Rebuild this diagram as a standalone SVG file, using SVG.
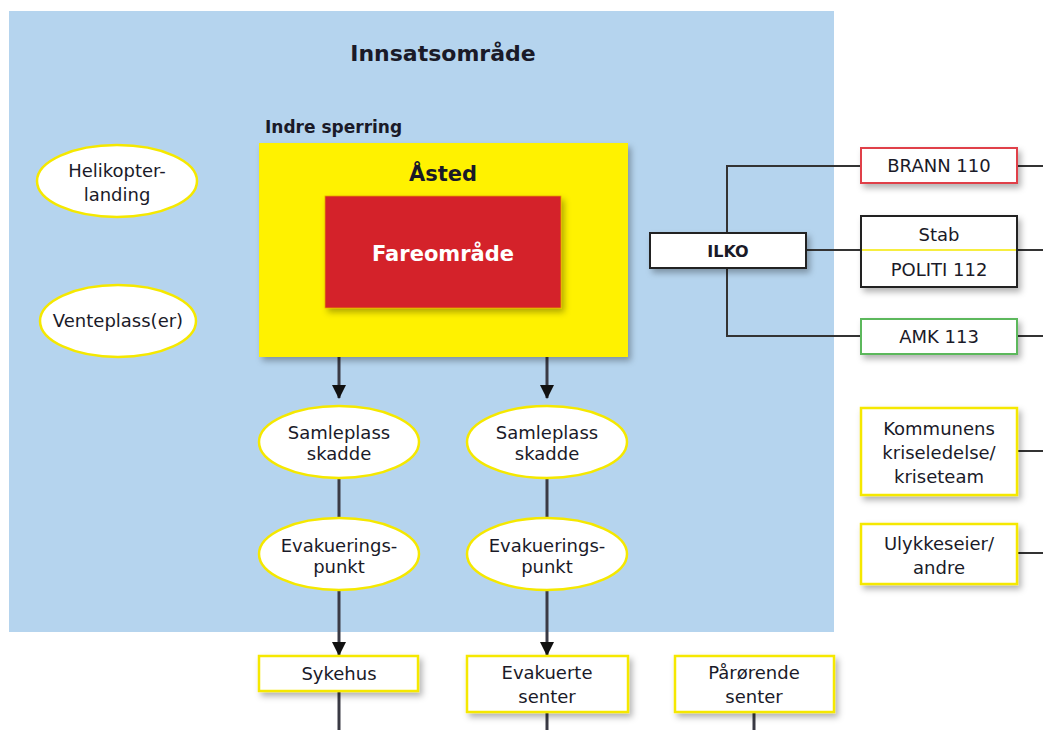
<svg xmlns="http://www.w3.org/2000/svg" width="1043" height="730" viewBox="0 0 1043 730">
<defs>
<filter id="sh" x="-20%" y="-20%" width="150%" height="160%">
<feDropShadow dx="3" dy="4" stdDeviation="3" flood-color="#000" flood-opacity="0.3"/>
</filter>
<marker id="ah" markerWidth="16" markerHeight="16" refX="13" refY="7" orient="auto" markerUnits="userSpaceOnUse">
<path d="M0,0 L14,7 L0,14 Z" fill="#111"/>
</marker>
</defs>
<style>
text{font-family:"DejaVu Sans","Liberation Sans",sans-serif;fill:#1a1a28;text-anchor:middle;font-size:18px}
.b{font-weight:bold}
.ell{fill:#fff;stroke:#f5e800;stroke-width:2.5}
.ybox{fill:#fff;stroke:#f5e800;stroke-width:2.5}
.wire{stroke:#333;stroke-width:2;fill:none}
.thick{stroke:#3a3a44;stroke-width:3;fill:none}
</style>
<rect x="0" y="0" width="1043" height="730" fill="#fff"/>
<rect x="9" y="11" width="825" height="621" fill="#b5d4ee"/>
<text class="b" x="443" y="61" style="font-size:22px">Innsatsområde</text>
<text class="b" x="265" y="133" style="font-size:17px;text-anchor:start">Indre sperring</text>

<g id="connectors">
<path class="thick" d="M339,357 V398" marker-end="url(#ah)"/>
<path class="thick" d="M547,357 V398" marker-end="url(#ah)"/>
<path class="thick" d="M339,478 V518"/>
<path class="thick" d="M547,478 V518"/>
<path class="thick" d="M339,590 V655" marker-end="url(#ah)"/>
<path class="thick" d="M547,590 V655" marker-end="url(#ah)"/>
<path class="thick" d="M339,691 V730"/>
<path class="thick" d="M547,712 V730"/>
<path class="thick" d="M754,712 V730"/>
<path class="wire" d="M861,166 H727 V336 H861"/>
<path class="wire" d="M806,250 H861"/>
<path class="wire" d="M1017,166 H1043"/>
<path class="wire" d="M1017,250 H1043"/>
<path class="wire" d="M1017,336 H1043"/>
<path class="wire" d="M1017,451 H1043"/>
<path class="wire" d="M1017,553 H1043"/>
</g>

<g id="asted">
<rect x="259" y="143" width="369" height="214" fill="#fff200" filter="url(#sh)"/>
<text class="b" x="443" y="181" style="font-size:21px">Åsted</text>
</g>
<g id="fareomrade">
<rect x="325" y="196" width="236" height="112" fill="#d4212a" stroke="#e8a000" stroke-width="0.8" filter="url(#sh)"/>
<text class="b" x="443" y="261" style="fill:#fff;font-size:21px">Fareområde</text>
</g>

<g id="helikopter">
<ellipse class="ell" cx="117" cy="181" rx="80" ry="36"/>
<text x="117" y="177">Helikopter-</text>
<text x="117" y="201">landing</text>
</g>
<g id="venteplass">
<ellipse class="ell" cx="118" cy="321" rx="78" ry="36"/>
<text x="118" y="327">Venteplass(er)</text>
</g>

<g id="samleplass1">
<ellipse class="ell" cx="339" cy="442" rx="80" ry="36"/>
<text x="339" y="439">Samleplass</text>
<text x="339" y="460">skadde</text>
</g>
<g id="samleplass2">
<ellipse class="ell" cx="547" cy="442" rx="80" ry="36"/>
<text x="547" y="439">Samleplass</text>
<text x="547" y="460">skadde</text>
</g>
<g id="evak1">
<ellipse class="ell" cx="339" cy="554" rx="80" ry="36"/>
<text x="339" y="552">Evakuerings-</text>
<text x="339" y="573">punkt</text>
</g>
<g id="evak2">
<ellipse class="ell" cx="547" cy="554" rx="80" ry="36"/>
<text x="547" y="552">Evakuerings-</text>
<text x="547" y="573">punkt</text>
</g>

<g id="sykehus">
<rect class="ybox" x="259" y="656" width="159" height="35" filter="url(#sh)"/>
<text x="339" y="680">Sykehus</text>
</g>
<g id="evakuerte">
<rect class="ybox" x="467" y="656" width="161" height="56" filter="url(#sh)"/>
<text x="547" y="679">Evakuerte</text>
<text x="547" y="703">senter</text>
</g>
<g id="parorende">
<rect class="ybox" x="675" y="656" width="159" height="56" filter="url(#sh)"/>
<text x="754" y="679">Pårørende</text>
<text x="754" y="703">senter</text>
</g>

<g id="ilko">
<rect x="650" y="233" width="156" height="35" fill="#fff" stroke="#222" stroke-width="2" filter="url(#sh)"/>
<text class="b" x="728" y="257" style="font-size:16px">ILKO</text>
</g>
<g id="brann">
<rect x="861" y="148" width="156" height="35" fill="#fff" stroke="#e0404a" stroke-width="2" filter="url(#sh)"/>
<text x="939" y="172">BRANN 110</text>
</g>
<g id="politi">
<rect x="861" y="216" width="156" height="71" fill="#fff" stroke="#222" stroke-width="2" filter="url(#sh)"/>
<line x1="862" y1="250" x2="1016" y2="250" stroke="#f5e800" stroke-width="1.5"/>
<text x="939" y="241">Stab</text>
<text x="939" y="276">POLITI 112</text>
</g>
<g id="amk">
<rect x="861" y="319" width="156" height="35" fill="#fff" stroke="#5cb85c" stroke-width="2" filter="url(#sh)"/>
<text x="939" y="343">AMK 113</text>
</g>
<g id="kommunens">
<rect class="ybox" x="861" y="408" width="156" height="87" filter="url(#sh)"/>
<text x="939" y="435">Kommunens</text>
<text x="939" y="459">kriseledelse/</text>
<text x="939" y="483">kriseteam</text>
</g>
<g id="ulykkeseier">
<rect class="ybox" x="861" y="524" width="156" height="60" filter="url(#sh)"/>
<text x="939" y="550">Ulykkeseier/</text>
<text x="939" y="574">andre</text>
</g>
</svg>
